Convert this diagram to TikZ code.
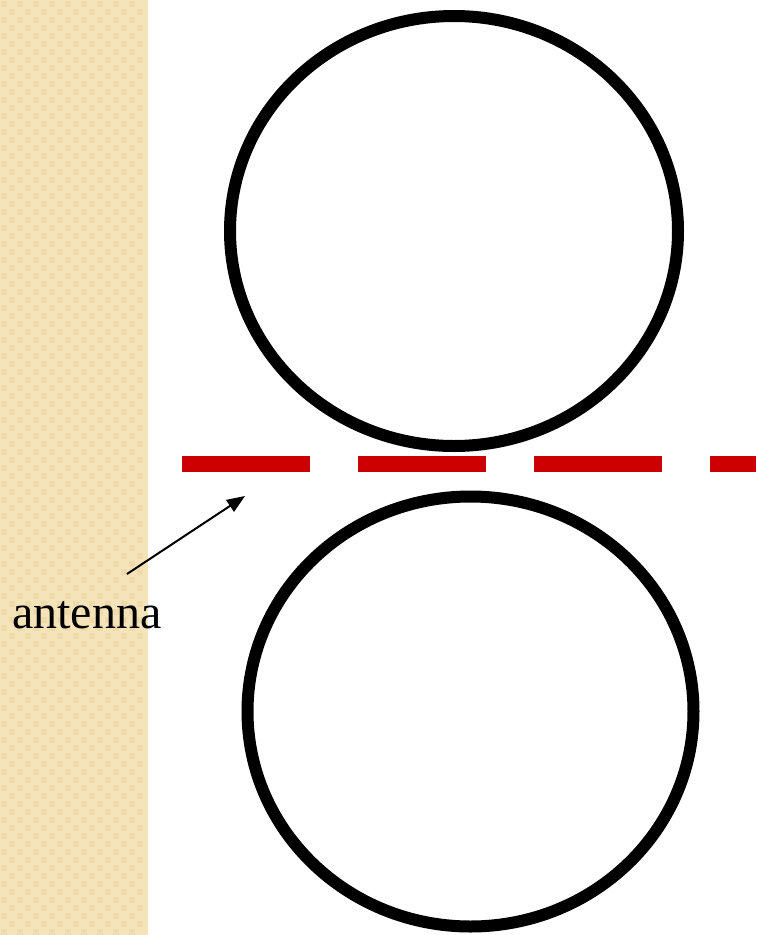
\documentclass[tikz,border=0pt]{standalone}
\usepackage{fontspec}
\setmainfont{Liberation Serif}
\usetikzlibrary{arrows.meta}
\definecolor{strip}{RGB}{245,228,186}
\definecolor{stripdark}{RGB}{238,218,170}
\definecolor{dashred}{RGB}{204,0,0}
\tikzset{
  ring/.style={draw=black, line width=12pt},
  antline/.style={draw=dashred, line width=16pt, dash pattern=on 128pt off 48pt},
  pointer/.style={draw=black, line width=2pt, -{Triangle[length=18pt,width=14pt]}},
  lbl/.style={font=\fontsize{48}{57}\selectfont, inner sep=0pt, anchor=base west}
}
\begin{document}
\begin{tikzpicture}[x=1pt,y=-1pt]
\useasboundingbox (0,0) rectangle (756,935);
\fill[white] (0,0) rectangle (756,935);
\fill[strip] (0,0) rectangle (148,935);
\foreach \i in {0,...,17}{
  \foreach \j in {0,...,116}{
    \pgfmathtruncatemacro{\cpar}{mod(\i+\j,2)}
    \ifnum\cpar=0
      \fill[stripdark] (\i*8+1,\j*8+1) rectangle ++(6,6);
    \fi
  }
}
\draw[ring] (454,231) ellipse [x radius=224, y radius=215];
\draw[ring] (470.5,711.5) ellipse [x radius=223, y radius=215];
\coordinate (ls) at (182,464);
\coordinate (le) at (756,464);
\draw[antline] (ls) -- (le);
\node[lbl] (ant) at (12,628) {antenna};
\coordinate (as) at (127,574);
\coordinate (ae) at (245,496);
\draw[pointer] (as) -- (ae);
\end{tikzpicture}
\end{document}
